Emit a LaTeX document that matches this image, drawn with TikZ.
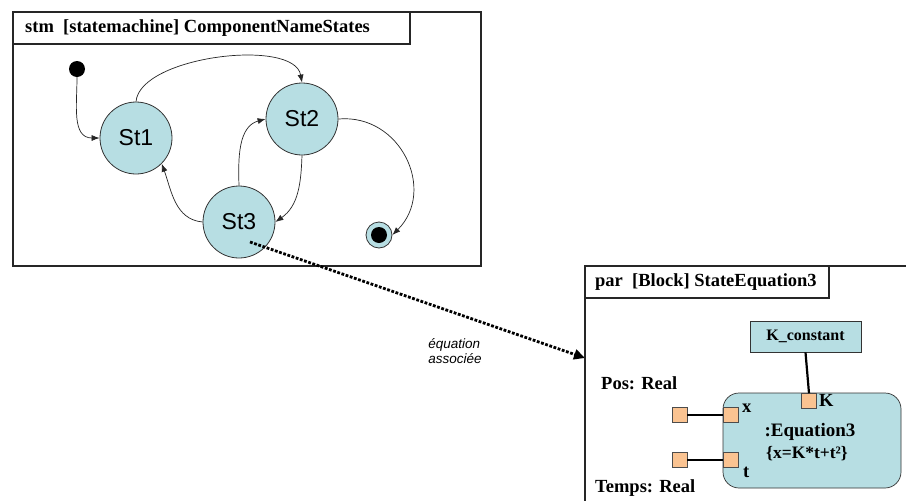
\documentclass[tikz,border=0pt]{standalone}
\usepackage{fontspec}
\setmainfont{Liberation Serif}
\newfontfamily\arialf{Liberation Sans}
\usetikzlibrary{arrows.meta,calc}
\definecolor{stfill}{RGB}{183,222,227}
\definecolor{portfill}{RGB}{250,195,145}
\begin{document}
\begin{tikzpicture}[x=1pt,y=-1pt,
  frame/.style={draw=black!85,line width=1.6pt},
  hdr/.style={font=\bfseries\fontsize{18.5}{21}\selectfont,anchor=west,inner sep=0pt},
  statec/.style={circle,draw=black!80,line width=0.8pt,fill=stfill,minimum size=72pt,inner sep=0pt,font=\arialf\fontsize{23}{25}\selectfont},
  trans/.style={draw=black!85,line width=0.7pt,-{Latex[length=8pt,width=6pt]}},
  port/.style={draw=black!70,line width=0.6pt,fill=portfill,minimum size=15pt,inner sep=0pt},
  wire/.style={draw=black,line width=2.2pt},
  lbl/.style={font=\bfseries\fontsize{18.5}{20}\selectfont,inner sep=0pt}]
\useasboundingbox (0,0) rectangle (906,501);
\fill[white] (0,0) rectangle (906,501);
% top frame
\draw[frame] (13,12) rectangle (481,266);
\draw[frame] (13,44) -- (410,44) -- (410,12);
\node[hdr] (h1) at (25,28) {stm\ \ [statemachine] ComponentNameStates};
% states
\node[circle,fill=black,minimum size=16pt,inner sep=0pt] (init) at (77,69) {};
\node[statec] (st1) at (136,138) {St1};
\node[statec] (st2) at (302,119) {St2};
\node[statec] (st3) at (239,222) {St3};
\node[circle,draw=black!80,line width=0.8pt,fill=stfill,minimum size=26pt,inner sep=0pt] (fin) at (379,235) {};
\node[circle,fill=black,minimum size=16pt,inner sep=0pt] (finin) at (fin) {};
% transitions
\draw[trans] (init.south) to[out=-90,in=180,looseness=1.1] (st1.west);
\draw[trans] (st1.north) to[out=85,in=100,looseness=0.7] (st2.north);
\draw[trans] (st2.east) to[out=5,in=45,looseness=1.25] (fin.east);
\draw[trans] (st2.south) to[out=-92,in=35] (st3.east);
\draw[trans] (st3.north) to[out=92,in=195] (st2.west);
\draw[trans] (st3.west) to[out=175,in=-70] (st1.south east);
% link
\coordinate (dstart) at (250,242);
\coordinate (dend) at (585,358);
\draw[line width=2.8pt,dash pattern=on 2.8pt off 1.6pt,-{Triangle[length=11pt,width=10pt]}] (dstart) -- (dend);
\node[font=\arialf\itshape\fontsize{13.5}{15}\selectfont,align=left,inner sep=0pt] (assoc) at (455,351) {équation\\associée};
% bottom frame
\draw[frame] (585,505) -- (585,266) -- (910,266);
\draw[frame] (585,298) -- (829,298) -- (829,266);
\node[hdr] (h2) at (595,282) {par\ \ [Block] StateEquation3};
% blocks
\node[draw=black!80,line width=0.7pt,fill=stfill,minimum width=111pt,minimum height=31pt,inner sep=0pt,font=\bfseries\fontsize{16}{17}\selectfont] (kc) at (805.5,336.5) {K\_constant};
\node[draw=black!80,line width=0.7pt,fill=stfill,rounded corners=16pt,minimum width=178pt,minimum height=95pt,inner sep=0pt] (eq) at (812,440.5) {};
\node[lbl,font=\bfseries\fontsize{19}{20}\selectfont] (eqn) at (810,432) {:Equation3};
\node[font=\bfseries\fontsize{17.5}{18}\selectfont,inner sep=0pt] (eqf) at (807,454) {\{x=K*t+t²\}};
% ports
\node[port] (pk) at (809,401) {};
\node[port] (px) at (731,415) {};
\node[port] (pt) at (731,460) {};
\node[port] (ox) at (679.5,415) {};
\node[port] (ot) at (679.5,460) {};
\draw[wire] (kc.south) -- (pk.north);
\draw[wire] (ox.east) -- (px.west);
\draw[wire] (ot.east) -- (pt.west);
\node[lbl,anchor=west] (lk) at (819,400) {K};
\node[lbl,anchor=west] (lx) at (742,408) {x};
\node[lbl,anchor=west] (lt) at (743,472) {t};
\node[lbl,anchor=west] (pos) at (601,383) {Pos: Real};
\node[lbl,anchor=west] (temps) at (595,488) {Temps: Real};
\end{tikzpicture}
\end{document}
